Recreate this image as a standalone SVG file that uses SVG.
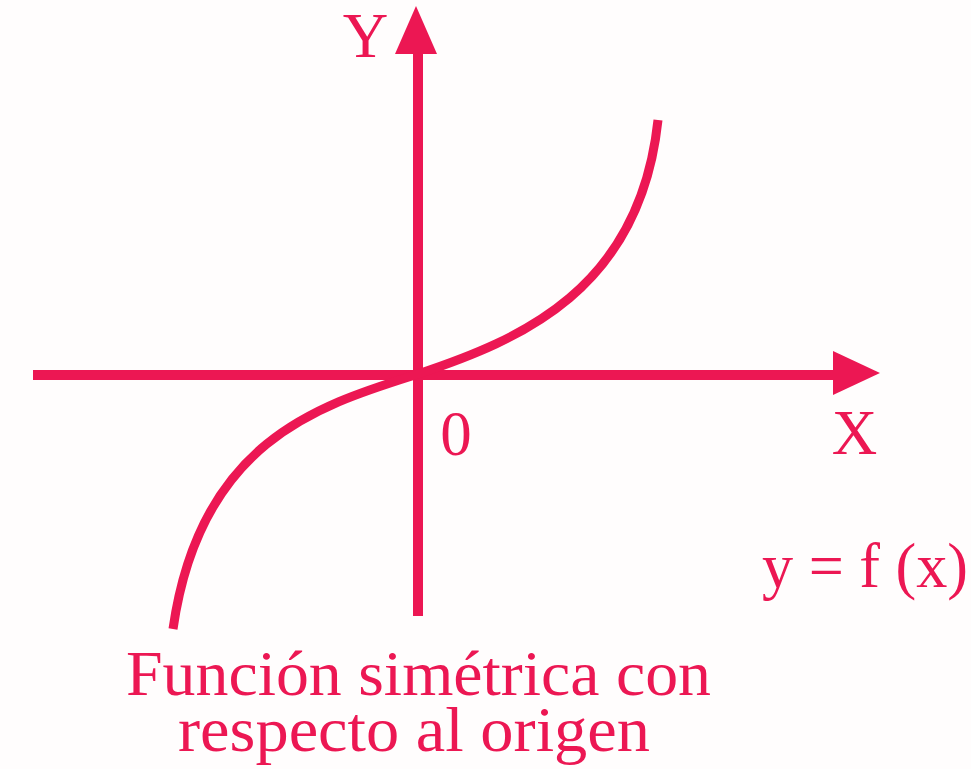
<svg xmlns="http://www.w3.org/2000/svg" width="971" height="769" viewBox="0 0 971 769">
<style>
.ax{stroke:#EC1753;stroke-width:10;fill:none}
.head{fill:#EC1753}
.crv{stroke:#EC1753;stroke-width:9;fill:none;stroke-linejoin:round;stroke-linecap:butt}
.t{font-family:"Liberation Serif","Times New Roman",serif;fill:#EC1753;font-size:63px}
</style>
<rect width="971" height="769" fill="#FFFDFD"/>
<g id="connectors">
<g id="y-axis">
<line class="ax" x1="418" y1="40" x2="418" y2="616"/>
<polygon class="head" points="416,6 437,54 395,54"/>
</g>
<g id="x-axis">
<line class="ax" x1="33" y1="375" x2="840" y2="375"/>
<polygon class="head" points="833,351 880,373 833,395"/>
</g>
</g>
<g id="curve">
<path class="crv" d="M173,629 C200,440 320,405 418,374 C520,340 640,290 658,120"/>
</g>
<g id="label-Y"><text class="t" x="365.5" y="57" text-anchor="middle">Y</text></g>
<g id="label-X"><text class="t" x="854.5" y="454" text-anchor="middle">X</text></g>
<g id="label-0"><text class="t" x="456" y="455" text-anchor="middle">0</text></g>
<g id="label-fx"><text class="t" x="762" y="587" textLength="206" lengthAdjust="spacingAndGlyphs">y = f (x)</text></g>
<g id="caption">
<text class="t" x="126" y="695" textLength="585" lengthAdjust="spacingAndGlyphs">Función simétrica con</text>
<text class="t" x="178" y="751" textLength="472" lengthAdjust="spacingAndGlyphs">respecto al origen</text>
</g>
</svg>
